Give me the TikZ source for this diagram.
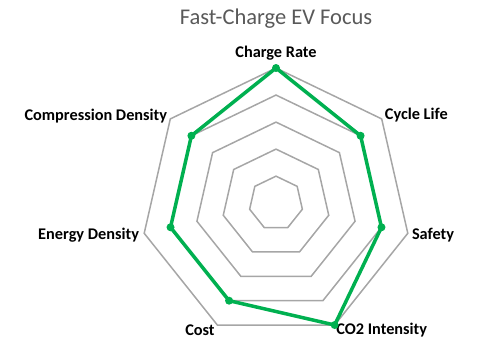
\documentclass[tikz,border=0pt]{standalone}
\usepackage{fontspec}
\setmainfont{Carlito}
\usetikzlibrary{shapes.geometric,positioning}
\definecolor{ringgray}{RGB}{166,166,166}
\definecolor{seriesgreen}{RGB}{0,176,80}
\definecolor{titlegray}{RGB}{89,89,89}
\tikzset{
ring/.style={
  draw=ringgray,
  line width=1.5bp,
  regular polygon,
  regular polygon sides=7,
  inner sep=0pt,
  outer sep=0pt
  },
axislabel/.style={
  font=\fontsize{16.3bp}{19bp}\selectfont\bfseries,
  text=black,
  inner sep=0pt
  },
series/.style={
  draw=seriesgreen,
  line width=3.5bp,
  line join=round
  },
datadot/.style={
  circle,
  fill=seriesgreen,
  inner sep=0pt,
  minimum size=8bp
  }
}

\begin{document}
\begin{tikzpicture}[x=1bp, y=1bp]
\useasboundingbox (-276,-137.8) rectangle (203,203.2);

\node[font=\fontsize{22.5bp}{26bp}\selectfont, text=titlegray, inner sep=0pt]
  (title) at (0,184.5) {Fast-Charge EV Focus};

% grid rings
\node[ring, minimum size=54.1bp] (ring1) at (0,0) {};
\node[ring, minimum size=108.2bp] (ring2) at (0,0) {};
\node[ring, minimum size=162.2bp] (ring3) at (0,0) {};
\node[ring, minimum size=216.3bp] (ring4) at (0,0) {};
\node[ring, minimum size=270.4bp] (ring5) at (0,0) {};

% axis labels
\node[axislabel, above=8bp of ring5.corner 1] (rate) {Charge Rate};
\node[axislabel, right=3bp of ring5.corner 7, yshift=4bp] (life) {Cycle Life};
\node[axislabel, right=4bp of ring5.corner 6, yshift=-2bp] (safety) {Safety};
\node[axislabel, right=1.5bp of ring5.corner 5, yshift=-5bp] (co2) {CO2 Intensity};
\node[axislabel, left=2.5bp of ring5.corner 4, yshift=-5bp] (cost) {Cost};
\node[axislabel, left=5bp of ring5.corner 3, yshift=-2bp] (energy) {Energy Density};
\node[axislabel, left=3bp of ring5.corner 2, yshift=3bp] (compr) {Compression Density};

% data points
\coordinate (pt1) at (90:135.2);
\coordinate (pt2) at (38.57:108.2);
\coordinate (pt3) at (-12.86:108.2);
\coordinate (pt4) at (-64.29:135.2);
\coordinate (pt5) at (-115.71:108.2);
\coordinate (pt6) at (-167.14:108.2);
\coordinate (pt7) at (141.43:108.2);

\draw[series] (pt1) -- (pt2) -- (pt3) -- (pt4) -- (pt5) -- (pt6) -- (pt7) -- cycle;

\node[datadot] (dot1) at (pt1) {};
\node[datadot] (dot2) at (pt2) {};
\node[datadot] (dot3) at (pt3) {};
\node[datadot] (dot4) at (pt4) {};
\node[datadot] (dot5) at (pt5) {};
\node[datadot] (dot6) at (pt6) {};
\node[datadot] (dot7) at (pt7) {};
\end{tikzpicture}
\end{document}
